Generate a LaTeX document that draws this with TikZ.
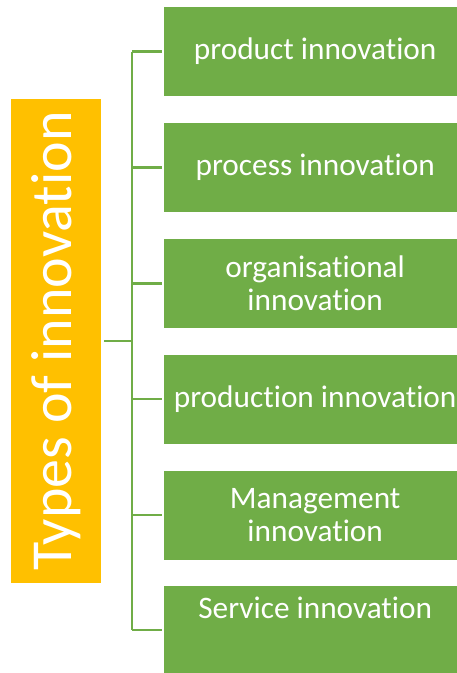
\documentclass[tikz,border=0pt]{standalone}
\usepackage{fontspec}
\setmainfont{Carlito}[Ligatures={NoCommon,NoRare}]
\usetikzlibrary{positioning}
\definecolor{KindGreen}{RGB}{112,173,71}
\definecolor{RootOrange}{RGB}{255,192,0}
\tikzset{
	root/.style={fill=RootOrange, text=white, rotate=90, minimum width=484pt, minimum height=90pt, inner sep=0pt, font=\fontsize{58}{60}\selectfont},
	kind/.style={fill=KindGreen, text=white, anchor=west, minimum width=302pt, minimum height=89pt, inner sep=0pt, align=center, font=\fontsize{31.3}{33}\selectfont},
	link/.style={KindGreen, line width=2.2pt},
}

\begin{document}
\begin{tikzpicture}[x=1pt, y=1pt]
		% page frame
		\clip (0,0) rectangle (457,-673);
		
		% the root box
		\node[root] (types) at (56,-341) {Types of innovation};
		
		% the six kinds
		\node[kind] (product) at (164,-51.5) {product innovation};
		\node[kind] (process) at (164,-167.5) {process innovation};
		\node[kind] (organisational) at (164,-283.5) {organisational\\innovation};
		\node[kind] (production) at (164,-399) {production innovation};
		\node[kind] (management) at (164,-515) {Management\\innovation};
		\node[kind] (service) at (164,-630) {Service innovation\\[12pt]~};
		
		% bus
		\coordinate (bus) at (132,-341);
		\draw[link, shorten <=3pt] (types.south) -- (bus);
		\draw[link] (bus |- product.west) -- (bus |- service.west);
		
		% ticks to the kinds
		\draw[link, shorten >=2pt] (bus |- product.west) -- (product.west);
		\draw[link, shorten >=2pt] (bus |- process.west) -- (process.west);
		\draw[link, shorten >=2pt] (bus |- organisational.west) -- (organisational.west);
		\draw[link, shorten >=2pt] (bus |- production.west) -- (production.west);
		\draw[link, shorten >=2pt] (bus |- management.west) -- (management.west);
		\draw[link, shorten >=2pt] (bus |- service.west) -- (service.west);
	\end{tikzpicture}
\end{document}
